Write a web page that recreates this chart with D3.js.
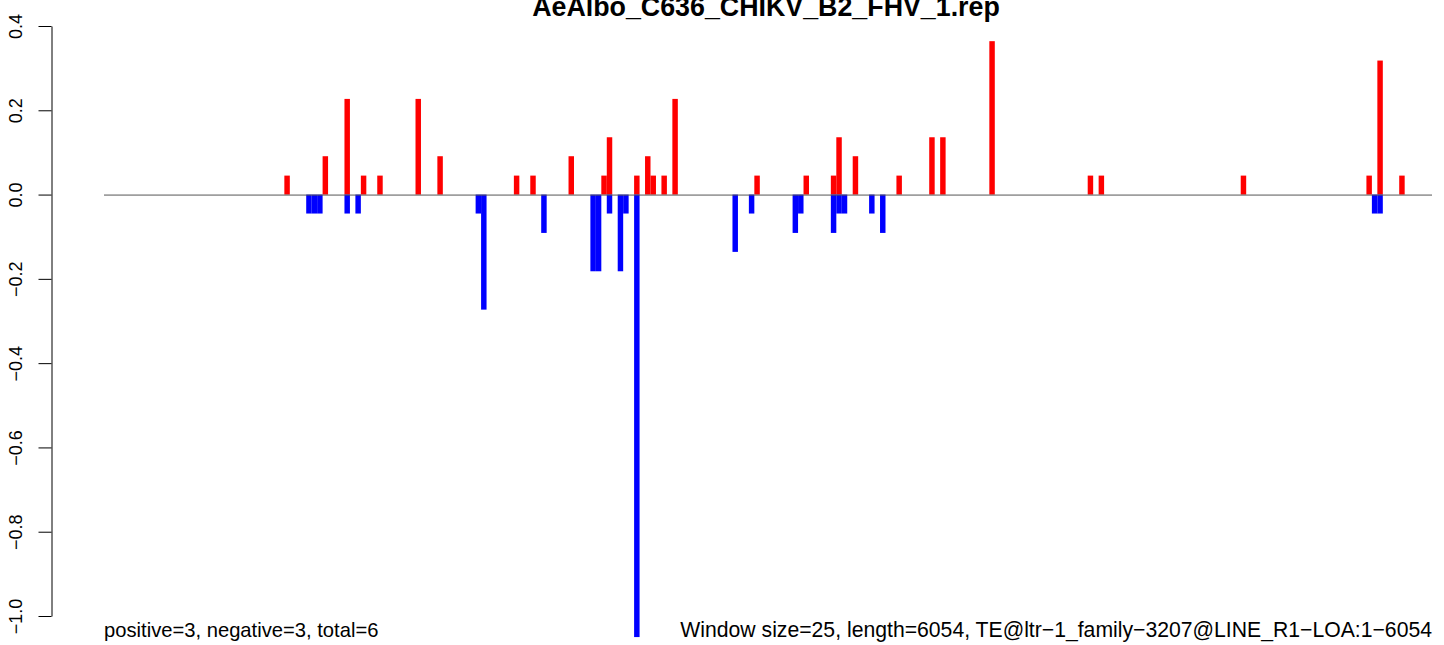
<!DOCTYPE html>
<html>
<head>
<meta charset="utf-8">
<script src="https://cdn.jsdelivr.net/npm/d3@7"></script>
<style>
  body { margin: 0; background: #fff; }
  svg { display: block; font-family: "Liberation Sans", Arial, Helvetica, sans-serif; }
</style>
</head>
<body>
<div id="chart"></div>
<script>
'use strict';

/*
    WINDOW BAR PLOT (positive / negative counts per 25 nt window)
*/

const title = "AeAlbo_C636_CHIKV_B2_FHV_1.rep"
const leftNote = "positive=3, negative=3, total=6"
const rightNote = "Window size=25, length=6054, TE@ltr\u22121_family\u22123207@LINE_R1\u2212LOA:1\u22126054"

const windowSize = 25
const nWindows = 243

// window start (nt) and value, above the line
const posStart = [825, 1000, 1100, 1175, 1250, 1425, 1525, 1875, 1950, 2125, 2275, 2300, 2425, 2475, 2500, 2550,
    2600, 2975, 3200, 3325, 3350, 3425, 3625, 3775, 3825, 4050, 4500, 4550, 5200, 5775, 5825, 5925]
const posValue = [0.045, 0.091, 0.227, 0.045, 0.045, 0.227, 0.091, 0.045, 0.045, 0.091, 0.045, 0.136, 0.045, 0.091, 0.045, 0.045,
    0.227, 0.045, 0.045, 0.045, 0.136, 0.091, 0.045, 0.136, 0.136, 0.364, 0.045, 0.045, 0.045, 0.045, 0.318, 0.045]

// window start (nt) and value, below the line
const negStart = [925, 950, 975, 1100, 1150, 1700, 1725, 2000, 2225, 2250, 2300, 2350, 2375, 2425, 2875, 2950,
    3150, 3175, 3325, 3350, 3375, 3500, 3550, 5800, 5825]
const negValue = [-0.045, -0.045, -0.045, -0.045, -0.045, -0.045, -0.273, -0.091, -0.182, -0.182, -0.045, -0.182, -0.045, -1.05, -0.136, -0.045,
    -0.091, -0.045, -0.091, -0.045, -0.045, -0.045, -0.091, -0.045, -0.045]

const yTicks = [0.4, 0.2, 0.0, -0.2, -0.4, -0.6, -0.8, -1.0]

const width = 1444,
    height = 645;

var svg = d3.select("#chart").append("svg")
    .attr("width", width)
    .attr("height", height)

var x = d3.scaleLinear()
    .domain([0, nWindows * windowSize])
    .range([104, 1432])

var y = d3.scaleLinear()
    .domain([-1.0, 0.4])
    .range([616, 26])

const barW = x(windowSize) - x(0)

// positive bars
svg.append("g")
    .selectAll("rect")
    .data(d3.zip(posStart, posValue))
    .enter().append("rect")
    .attr("x", d => x(d[0]))
    .attr("width", barW)
    .attr("y", d => y(d[1]))
    .attr("height", d => y(0) - y(d[1]))
    .attr("fill", "#ff0000")

// negative bars
svg.append("g")
    .selectAll("rect")
    .data(d3.zip(negStart, negValue))
    .enter().append("rect")
    .attr("x", d => x(d[0]))
    .attr("width", barW)
    .attr("y", y(0))
    .attr("height", d => y(d[1]) - y(0))
    .attr("fill", "#0000ff")

// zero line
svg.append("line")
    .attr("x1", x(0))
    .attr("x2", x(nWindows * windowSize))
    .attr("y1", y(0) + 0.5)
    .attr("y2", y(0) + 0.5)
    .attr("stroke", "#555")
    .attr("stroke-width", 1)

// y axis, labels turned like R does
var yAxis = svg.append("g")
    .attr("transform", "translate(51.5,0)")
    .call(d3.axisLeft(y)
        .tickValues(yTicks)
        .tickSize(13)
        .tickSizeOuter(0)
        .tickFormat(d => d3.format(".1f")(d).replace("-", "\u2212")))

yAxis.select(".domain").attr("stroke", "#000")
yAxis.selectAll(".tick line").attr("stroke", "#000")
yAxis.selectAll(".tick text")
    .attr("transform", "rotate(-90)")
    .attr("x", 0)
    .attr("y", -29.5)
    .attr("dy", 0)
    .attr("text-anchor", "middle")
    .attr("fill", "#000")
    .style("font-size", "18px")
    .style("font-family", "'Liberation Sans', Arial, sans-serif")

// title
svg.append("text")
    .attr("x", 766)
    .attr("y", 16)
    .attr("text-anchor", "middle")
    .style("font-size", "26.8px")
    .style("font-weight", "bold")
    .text(title)

// notes along the bottom
svg.append("text")
    .attr("x", 104)
    .attr("y", 637)
    .style("font-size", "20.2px")
    .text(leftNote)

svg.append("text")
    .attr("x", 1432)
    .attr("y", 637)
    .attr("text-anchor", "end")
    .style("font-size", "21.2px")
    .text(rightNote)
</script>
</body>
</html>
